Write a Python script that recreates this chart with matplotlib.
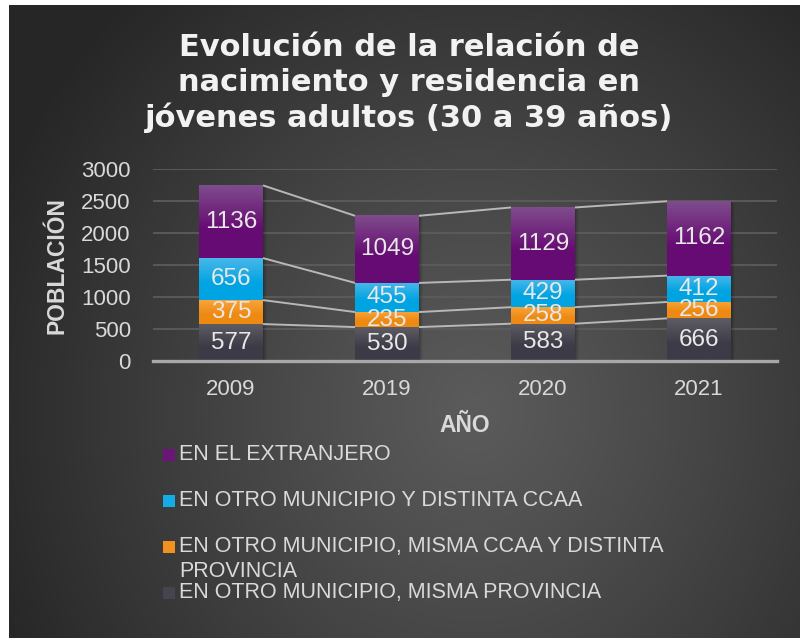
import numpy as np
import matplotlib
matplotlib.use('Agg')
import matplotlib.pyplot as plt
from matplotlib.colors import to_rgb
from matplotlib.patches import Rectangle
import matplotlib.transforms as mtransforms

# ---------------- data ----------------
years = ['2009', '2019', '2020', '2021']
misma_provincia = [577, 530, 583, 666]
misma_ccaa_distinta_prov = [375, 235, 258, 256]
distinta_ccaa = [656, 455, 429, 412]
extranjero = [1136, 1049, 1129, 1162]
series_values = [misma_provincia, misma_ccaa_distinta_prov, distinta_ccaa, extranjero]
series_names = ['EN OTRO MUNICIPIO, MISMA PROVINCIA',
                'EN OTRO MUNICIPIO, MISMA CCAA Y DISTINTA\nPROVINCIA',
                'EN OTRO MUNICIPIO Y DISTINTA CCAA',
                'EN EL EXTRANJERO']
yticks = [0, 500, 1000, 1500, 2000, 2500, 3000]
title = 'Evolución de la relación de\nnacimiento y residencia en\njóvenes adultos (30 a 39 años)'

# gradient colours (top, bottom) per series
grad_colors = [('#5e5d64', '#3c3b47'),
               ('#f8a43c', '#ee8a12'),
               ('#48b7ea', '#00a4e2'),
               ('#7f4c8c', '#660b73')]
legend_colors = ['#45444f', '#f2921e', '#14ace6', '#6c1579']

W, H = 803, 638
fig = plt.figure(figsize=(W / 100, H / 100), dpi=100)
fig.patch.set_facecolor('white')

# ---------------- background panel ----------------
px0, py0, px1, py1 = 9, 5, 800, 638
bg = fig.add_axes([px0 / W, 1 - py1 / H, (px1 - px0) / W, (py1 - py0) / H])
yy, xx = np.mgrid[py0:py1, px0:px1]
cx, cy = 475, 410
r = np.sqrt(((xx - cx) / 520.0) ** 2 + ((yy - cy) / 560.0) ** 2)
t = np.clip(r, 0, 1) ** 1.1
c_center = np.array([0x5b, 0x5b, 0x5b]) / 255
c_edge = np.array([0x26, 0x26, 0x26]) / 255
img = c_center[None, None, :] + (c_edge - c_center)[None, None, :] * t[..., None]
bg.imshow(img, aspect='auto', interpolation='bilinear')
bg.axis('off')
bg.set_zorder(-10)

# ---------------- main axes ----------------
ax_l, ax_r, ax_t, ax_b = 153, 777, 169, 361
ax = fig.add_axes([ax_l / W, 1 - ax_b / H, (ax_r - ax_l) / W, (ax_b - ax_t) / H])
ax.set_facecolor('none')
x = np.arange(len(years))
bw = 0.41

bottoms = np.zeros(len(years))
containers = []
levels = []
for vals in series_values:
    c = ax.bar(x, vals, bw, bottom=bottoms, facecolor='none', edgecolor='none', zorder=3)
    containers.append(c)
    bottoms = bottoms + np.array(vals)
    levels.append(bottoms.copy())

# shadows
for i, xi in enumerate(x):
    for k, a in zip([1, 2, 3, 4], [0.10, 0.08, 0.06, 0.04]):
        tr = mtransforms.offset_copy(ax.transData, fig=fig, x=k * 0.72, y=-k * 0.4, units='points')
        ax.add_patch(Rectangle((xi - bw / 2, 0), bw, bottoms[i], transform=tr,
                               facecolor='black', alpha=a, edgecolor='none', zorder=1.5))

# gradient fills
n = 100
tt = np.linspace(0, 1, n)
prof = np.clip(tt / 0.6, 0, 1)
for c, (ctop, cbot) in zip(containers, grad_colors):
    top = np.array(to_rgb(ctop))
    bot = np.array(to_rgb(cbot))
    grad = top[None, :] + (bot - top)[None, :] * prof[:, None]
    grad = np.repeat(grad[:, None, :], 2, axis=1)
    for p in c.patches:
        x0, y0 = p.get_x(), p.get_y()
        w, h = p.get_width(), p.get_height()
        ax.imshow(grad, extent=(x0, x0 + w, y0, y0 + h), aspect='auto',
                  interpolation='bilinear', zorder=2, origin='upper')

# series lines
for lev in levels:
    for i in range(len(years) - 1):
        ax.plot([x[i] + bw / 2, x[i + 1] - bw / 2], [lev[i], lev[i + 1]],
                color='#b8b8b8', lw=1.4, zorder=2.5, solid_capstyle='butt')

# data labels
for c in containers:
    ax.bar_label(c, label_type='center', color='#e8e8e8', fontsize=17.5,
                 family='Liberation Sans', zorder=5)

ax.set_xlim(-0.5, len(years) - 0.5)
ax.set_ylim(0, 3000)
ax.set_yticks(yticks)
ax.set_xticks(x)
ax.set_xticklabels(years)
ax.tick_params(axis='both', length=0, colors='#d9d9d9', labelsize=16)
ax.tick_params(axis='y', pad=16)
ax.tick_params(axis='x', pad=13)
for lab in ax.get_xticklabels() + ax.get_yticklabels():
    lab.set_family('Liberation Sans')
ax.yaxis.grid(True, color='#5c5c5c', lw=1.3, zorder=0)
ax.set_axisbelow(True)
for s in ['top', 'right', 'left']:
    ax.spines[s].set_visible(False)
ax.spines['bottom'].set_color('#a8a8a8')
ax.spines['bottom'].set_linewidth(2.4)
ax.spines['bottom'].set_zorder(4)

# axis titles
fig.text(57 / W, 1 - 266 / H, 'POBLACIÓN', rotation=90, ha='center', va='center',
         fontsize=16.5, fontweight='bold', color='#d9d9d9', family='Liberation Sans')
fig.text(465 / W, 1 - 425 / H, 'AÑO', ha='center', va='center',
         fontsize=16.5, fontweight='bold', color='#d9d9d9', family='Liberation Sans')

# title
fig.text(409 / W, 1 - 83 / H, title, ha='center', va='center', fontsize=22,
         fontweight='bold', color='#f2f2f2', family='DejaVu Sans', linespacing=1.26)

# legend (top to bottom: reverse stacking order)
leg_y = [455, 501, 547, 593]
order = [3, 2, 1, 0]
for yv, idx in zip(leg_y, order):
    fig.patches.append(Rectangle((163 / W, 1 - (yv + 6) / H), 12 / W, 12 / H,
                                 transform=fig.transFigure, facecolor=legend_colors[idx],
                                 edgecolor='none'))
    label = series_names[idx]
    fig.text(179 / W, 1 - (yv - 11) / H, label, ha='left', va='top', fontsize=15.5,
             color='#d9d9d9', family='Liberation Sans', linespacing=1.28)

fig.savefig('out.png', dpi=100, facecolor=fig.get_facecolor())
